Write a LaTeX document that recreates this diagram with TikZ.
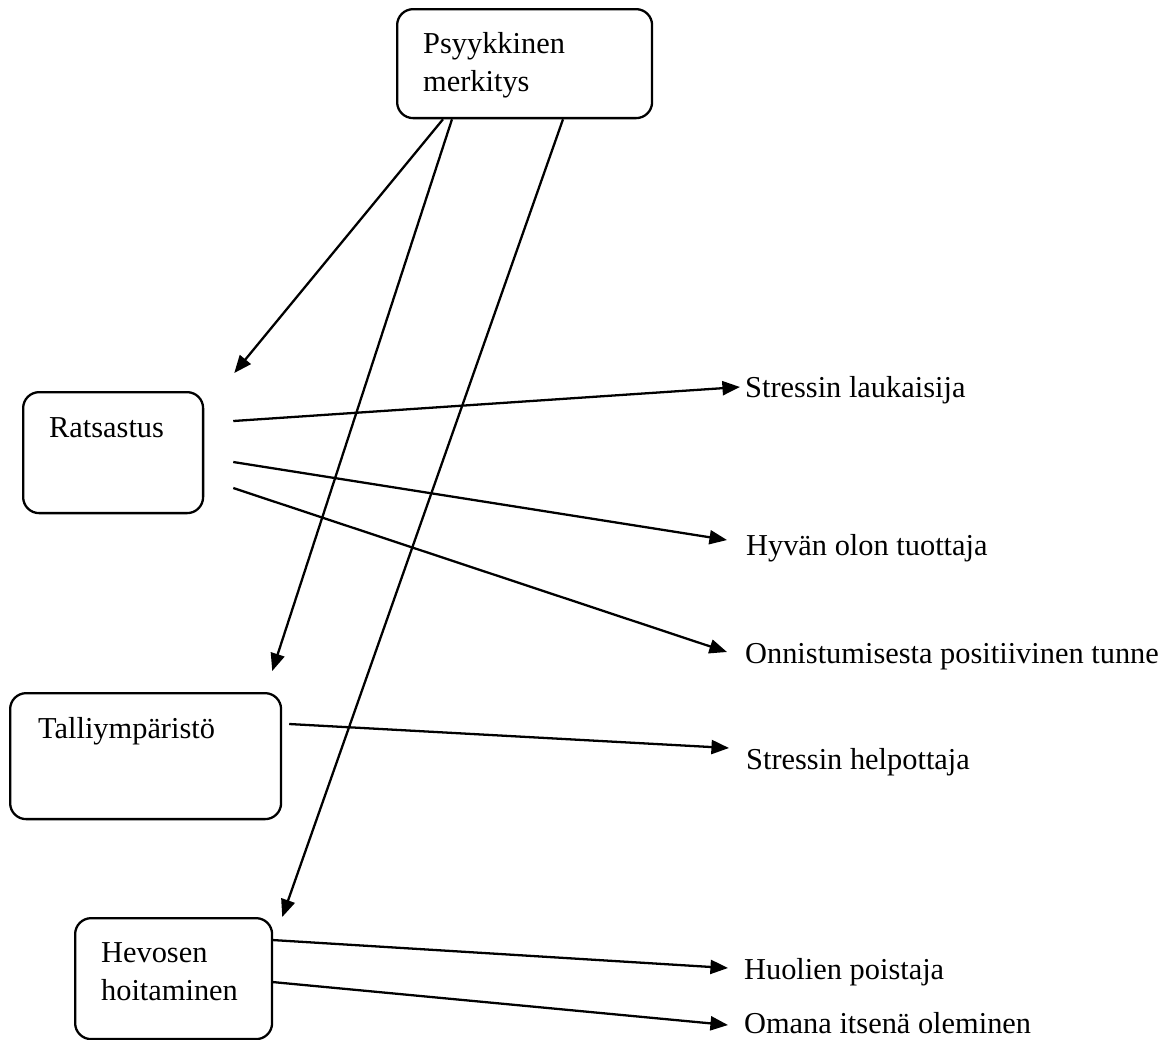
\documentclass[tikz,border=0pt]{standalone}
\usepackage{fontspec}
\setmainfont{Liberation Serif}
\usetikzlibrary{arrows.meta}
\begin{document}
\begin{tikzpicture}[x=0.02cm,y=-0.02cm,line width=1.3pt,
  >={Triangle[length=10pt,width=8pt]},
  box/.style={draw,rounded corners=0.32cm,anchor=north west,inner sep=0pt},
  txt/.style={inner sep=0pt,anchor=base west,align=left,font=\fontsize{17.3}{21.5}\selectfont}]
\useasboundingbox (0,0) rectangle (1173,1039);
% boxes
\node[box,minimum width=5.1cm,minimum height=2.18cm] (psy) at (396,8) {};
\node[box,minimum width=3.6cm,minimum height=2.42cm] (rat) at (22,391) {};
\node[box,minimum width=5.42cm,minimum height=2.52cm] (talli) at (9,692) {};
\node[box,minimum width=3.94cm,minimum height=2.42cm] (hev) at (74,917) {};
% box texts (base = last line)
\node[txt] (psyt) at (422,91) {Psyykkinen\\merkitys};
\node[txt] (ratt) at (48,437) {Ratsastus};
\node[txt] (tallit) at (37,738) {Talliympäristö};
\node[txt] (hevt) at (100,1000) {Hevosen\\hoitaminen};
% meanings
\node[txt] (t1) at (744,397) {Stressin laukaisija};
\node[txt] (t2) at (745,555) {Hyvän olon tuottaja};
\node[txt] (t3) at (744,663) {Onnistumisesta positiivinen tunne};
\node[txt] (t4) at (745,769) {Stressin helpottaja};
\node[txt] (t5) at (743,979) {Huolien poistaja};
\node[txt] (t6) at (743,1033) {Omana itsenä oleminen};
% arrows
\draw[->] ([shift={(47,0)}]psy.south west) -- ([shift={(30,-18)}]rat.north east);
\draw[->] ([shift={(56,0)}]psy.south west) -- ([shift={(-10,-21)}]talli.north east);
\draw[->] ([shift={(167,0)}]psy.south west) -- ([shift={(9,0)}]hev.north east);
\draw[->] ([shift={(29,30)}]rat.north east) -- ([shift={(-4,-10)}]t1.base west);
\draw[->] ([shift={(29,71)}]rat.north east) -- ([shift={(-18,-15)}]t2.base west);
\draw[->] ([shift={(29,97)}]rat.north east) -- ([shift={(-17,-11)}]t3.base west);
\draw[->] ([shift={(7,32)}]talli.north east) -- ([shift={(-16,-21)}]t4.base west);
\draw[->] ([shift={(-1,23)}]hev.north east) -- ([shift={(-15,-11)}]t5.base west);
\draw[->] ([shift={(-1,65)}]hev.north east) -- ([shift={(-15,-8)}]t6.base west);
\end{tikzpicture}
\end{document}
